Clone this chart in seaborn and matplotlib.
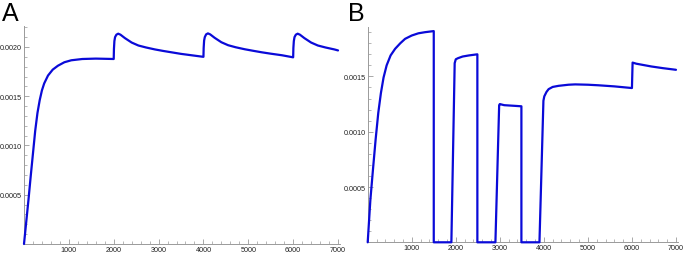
import matplotlib
matplotlib.use("Agg")
import matplotlib.pyplot as plt
import seaborn as sns
import pandas as pd
from matplotlib.ticker import MultipleLocator, FixedLocator

# ---- data ----
tA = [0, 100, 150, 200, 250, 300, 350, 400, 450, 535, 640, 757, 900, 1054, 1300, 1600, 2000,
      2000, 2005, 2015, 2030, 2060, 2100, 2150, 2250, 2400, 2550, 2720, 2920, 3100, 3300, 3500, 3750, 4000,
      4000, 4005, 4015, 4030, 4060, 4100, 4150, 4250, 4400, 4550, 4720, 4920, 5100, 5300, 5500, 5750, 6000,
      6000, 6005, 6015, 6030, 6060, 6100, 6150, 6250, 6400, 6550, 6720, 6920, 7000]
yA = [0, 0.45, 0.69, 0.92, 1.15, 1.33, 1.46, 1.56, 1.63, 1.71, 1.77, 1.81, 1.845, 1.865, 1.878, 1.882, 1.878,
      1.878, 1.98, 2.06, 2.10, 2.125, 2.135, 2.125, 2.09, 2.045, 2.015, 1.995, 1.975, 1.96, 1.945, 1.93, 1.915, 1.90,
      1.90, 1.99, 2.065, 2.10, 2.128, 2.138, 2.128, 2.093, 2.048, 2.018, 1.997, 1.977, 1.962, 1.946, 1.932, 1.916, 1.895,
      1.895, 1.99, 2.06, 2.10, 2.125, 2.135, 2.125, 2.09, 2.045, 2.015, 1.995, 1.975, 1.965]

tB = [0, 60, 120, 180, 240, 300, 360, 430, 520, 623, 740, 849, 1000, 1151, 1300, 1500,
      1500, 1900, 1975, 2000, 2050, 2155, 2300, 2490,
      2490, 2900, 2985, 3000, 3100, 3300, 3490,
      3490, 3900, 3990, 4010, 4060, 4108, 4200, 4334, 4560, 4711, 5000, 5237, 5600, 6000,
      6000, 6015, 6100, 6441, 6700, 7000]
yB = [0, 0.38, 0.66, 0.93, 1.17, 1.35, 1.49, 1.60, 1.69, 1.75, 1.80, 1.84, 1.87, 1.89, 1.90, 1.91,
      0, 0, 1.62, 1.655, 1.665, 1.68, 1.69, 1.70,
      0, 0, 1.24, 1.25, 1.24, 1.235, 1.23,
      0, 0, 1.28, 1.32, 1.36, 1.385, 1.405, 1.415, 1.425, 1.428, 1.425, 1.42, 1.41, 1.395,
      1.395, 1.625, 1.615, 1.59, 1.575, 1.56]

yticks = [0.0005, 0.0010, 0.0015, 0.0020]
ylabels = ["0.0005", "0.0010", "0.0015", "0.0020"]
xticks = [1000, 2000, 3000, 4000, 5000, 6000, 7000]
xlabels = ["1000", "2000", "3000", "4000", "5000", "6000", "7000"]

sns.set_style("white")
plt.rcParams['font.family'] = ['Liberation Sans', 'DejaVu Sans']

W, H = 685, 255
fig = plt.figure(figsize=(W / 100, H / 100), dpi=100)

def make_axes(left, bottom, xmax_px_per_k, ymax_val, height_px, xmax=7050):
    width_px = xmax / 1000 * xmax_px_per_k
    ax = fig.add_axes([left / W, bottom / H, width_px / W, height_px / H])
    ax.set_xlim(0, xmax)
    ax.set_ylim(0, ymax_val)
    return ax

axA = make_axes(24, 10, 44.86, 0.002213, 218)
axB = make_axes(367.7, 11.7, 44.04, 0.001947, 215.3)

for ax, t, y in ((axA, tA, yA), (axB, tB, yB)):
    df = pd.DataFrame({"t": t, "y": [v * 1e-3 for v in y]})
    sns.lineplot(data=df, x="t", y="y", ax=ax, sort=False, estimator=None,
                 color="#0a0ad8", linewidth=1.6, clip_on=False, zorder=5)
    ax.lines[-1].set_solid_joinstyle("round")
    ax.set_xlabel("")
    ax.set_ylabel("")
    for s in ("top", "right"):
        ax.spines[s].set_visible(False)
    for s in ("left", "bottom"):
        ax.spines[s].set_color("#9a9a9a")
        ax.spines[s].set_linewidth(0.7)
    ax.xaxis.set_major_locator(FixedLocator(xticks))
    ax.set_xticklabels(xlabels)
    ax.yaxis.set_major_locator(FixedLocator(yticks))
    ax.set_yticklabels(ylabels)
    ax.xaxis.set_minor_locator(MultipleLocator(200))
    ax.yaxis.set_minor_locator(MultipleLocator(0.0001))
    ax.tick_params(which="major", direction="in", length=3.5, width=0.6, color="#9a9a9a",
                   labelsize=5.2, labelcolor="#222222", pad=1.5, left=True, bottom=True)
    ax.tick_params(which="minor", direction="in", length=2, width=0.5, color="#9a9a9a",
                   left=True, bottom=True)
    ax.set_facecolor("none")

fig.text(1.5 / W, 1 - 2 / H, "A", fontsize=18, va="top", ha="left", color="black")
fig.text(348 / W, 1 - 2 / H, "B", fontsize=18, va="top", ha="left", color="black")

fig.savefig("out.png", dpi=100, facecolor="white")
